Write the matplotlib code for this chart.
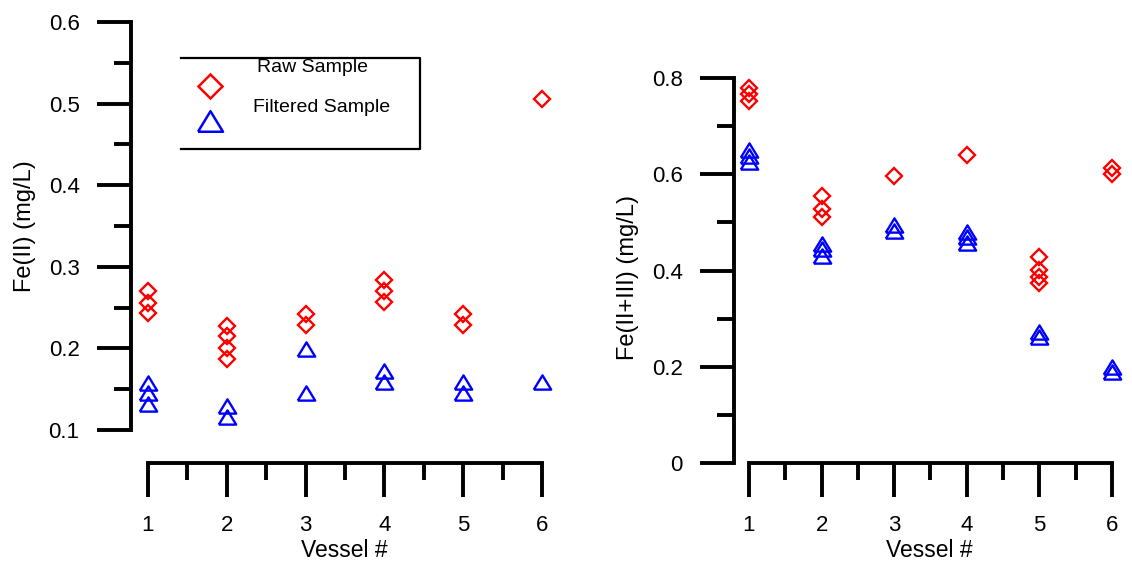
"""Fe(II) and Fe(II+III) per vessel, raw vs filtered samples."""
import matplotlib
matplotlib.use('Agg')
import matplotlib.pyplot as plt
from matplotlib.ticker import FixedLocator

plt.rcParams['font.family'] = ['Liberation Sans', 'DejaVu Sans']

RED = '#ff0000'
BLUE = '#0000ff'

# Fe(II), mg/L
fe2_raw_x = [1, 1, 1, 2, 2, 2, 2, 3, 3, 4, 4, 4, 5, 5, 6]
fe2_raw_y = [0.270, 0.256, 0.243, 0.228, 0.215, 0.201, 0.187,
             0.242, 0.229, 0.284, 0.270, 0.257, 0.242, 0.229, 0.506]
fe2_filt_x = [1, 1, 1, 2, 2, 3, 3, 4, 4, 5, 5, 6]
fe2_filt_y = [0.158, 0.145, 0.132, 0.129, 0.116, 0.199, 0.145,
              0.172, 0.159, 0.159, 0.145, 0.159]

# Fe(II+III), mg/L
fe23_raw_x = [1, 1, 1, 2, 2, 2, 3, 4, 5, 5, 5, 5, 6, 6]
fe23_raw_y = [0.780, 0.766, 0.752, 0.555, 0.528, 0.512, 0.597, 0.640,
              0.428, 0.401, 0.387, 0.374, 0.612, 0.600]
fe23_filt_x = [1, 1, 1, 2, 2, 2, 3, 3, 4, 4, 4, 5, 5, 6, 6]
fe23_filt_y = [0.650, 0.638, 0.625, 0.456, 0.445, 0.430, 0.494, 0.483,
               0.481, 0.470, 0.458, 0.272, 0.262, 0.200, 0.190]

vessels = [1, 2, 3, 4, 5, 6]
vessel_minor = [1.5, 2.5, 3.5, 4.5, 5.5]

fe2_ticks = [0.1, 0.2, 0.3, 0.4, 0.5, 0.6]
fe2_minor = [0.15, 0.25, 0.35, 0.45, 0.55]
fe23_ticks = [0, 0.2, 0.4, 0.6, 0.8]
fe23_labels = ['0', '0.2', '0.4', '0.6', '0.8']
fe23_minor = [0.1, 0.3, 0.5, 0.7]

# wide, flat open triangle
TRI = [(-1, -0.82), (1, -0.82), (0, 0.82), (-1, -0.82)]
LW = 2.8


def style_axes(ax, ybounds, yticks, yminor):
	for s in ('top', 'right'):
		ax.spines[s].set_visible(False)
	for s in ('left', 'bottom'):
		ax.spines[s].set_linewidth(LW)
		ax.spines[s].set_capstyle('projecting')
	ax.spines['left'].set_bounds(*ybounds)
	ax.spines['bottom'].set_bounds(1, 6)
	ax.set_xticks(vessels)
	ax.xaxis.set_minor_locator(FixedLocator(vessel_minor))
	ax.set_yticks(yticks)
	ax.yaxis.set_minor_locator(FixedLocator(yminor))
	ax.tick_params(which='major', length=24.5, width=LW, labelsize=16)
	ax.tick_params(which='minor', length=12, width=LW)
	ax.tick_params(axis='x', which='major', pad=13)
	ax.tick_params(axis='y', which='major', pad=12.5)
	ax.set_xlabel('Vessel #', fontsize=16.5, labelpad=2)


def scatter(ax, x, y, marker, color, ms):
	ax.plot(x, y, linestyle='none', marker=marker, markersize=ms,
	        markerfacecolor='none', markeredgecolor=color, markeredgewidth=1.7)


fig = plt.figure(figsize=(11.32, 5.69), dpi=100)

# left: Fe(II)
ax1 = fig.add_axes([0.1157, 0.1863, 0.377, 0.8037])
scatter(ax1, fe2_raw_x, fe2_raw_y, 'D', RED, 8.6)
scatter(ax1, fe2_filt_x, fe2_filt_y, TRI, BLUE, 12.5)
ax1.set_xlim(0.784, 6.2)
ax1.set_ylim(0.0596, 0.62)
style_axes(ax1, (0.1, 0.6), fe2_ticks, fe2_minor)
ax1.set_ylabel('Fe(II) (mg/L)', fontsize=17)
ax1.yaxis.set_label_coords(-0.222, 0.518)

# legend box, open on the left side
tr = ax1.transAxes
ax1.plot([0.117, 0.677, 0.677, 0.117], [0.8856, 0.8856, 0.6866, 0.6866],
         transform=tr, color='black', lw=1.6, clip_on=False)
ax1.plot([0.185], [0.8244], transform=tr, linestyle='none', marker='D',
         markersize=12.5, markerfacecolor='none', markeredgecolor=RED,
         markeredgewidth=1.8, clip_on=False)
ax1.plot([0.185], [0.7479], transform=tr, linestyle='none', marker=TRI,
         markersize=18, markerfacecolor='none', markeredgecolor=BLUE,
         markeredgewidth=1.8, clip_on=False)
ax1.text(0.4264, 0.855, 'Raw Sample', transform=tr, fontsize=14,
         ha='center', va='baseline')
ax1.text(0.4475, 0.7676, 'Filtered Sample', transform=tr, fontsize=14,
         ha='center', va='baseline')

# right: Fe(II+III)
ax2 = fig.add_axes([0.6484, 0.1863, 0.3454, 0.7781])
scatter(ax2, fe23_raw_x, fe23_raw_y, 'D', RED, 8.6)
scatter(ax2, fe23_filt_x, fe23_filt_y, TRI, BLUE, 12.5)
ax2.set_xlim(0.7934, 6.18)
ax2.set_ylim(0, 0.92)
style_axes(ax2, (0, 0.8), fe23_ticks, fe23_minor)
ax2.set_yticklabels(fe23_labels)
ax2.set_ylabel('Fe(II+III) (mg/L)', fontsize=17)
ax2.yaxis.set_label_coords(-0.243, 0.418)

fig.savefig('out.png', dpi=100)
